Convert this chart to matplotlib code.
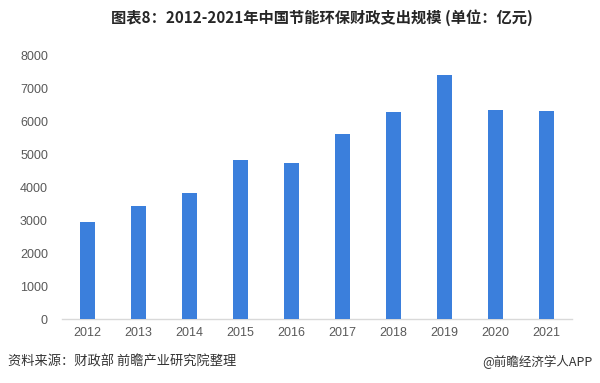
import matplotlib
matplotlib.use("Agg")
import matplotlib.pyplot as plt

years = ["2012", "2013", "2014", "2015", "2016", "2017", "2018", "2019", "2020", "2021"]
values = [2950, 3425, 3810, 4810, 4730, 5620, 6285, 7400, 6350, 6320]
yticks = [0, 1000, 2000, 3000, 4000, 5000, 6000, 7000, 8000]

title = "图表8：2012-2021年中国节能环保财政支出规模 (单位：亿元)"
source = "资料来源：财政部 前瞻产业研究院整理"
credit = "@前瞻经济学人APP"

plt.rcParams['font.family'] = ['Liberation Sans', 'Noto Sans CJK SC', 'DejaVu Sans']

fig = plt.figure(figsize=(6.0, 3.83), dpi=100)
ax = fig.add_axes([0.103, 0.167, 0.850, 0.689])

x = list(range(len(years)))
ax.bar(x, values, width=0.3, color="#3b7fdc", zorder=3)

ax.set_xlim(-0.5, 9.5)
ax.set_ylim(0, 8000)
ax.set_yticks(yticks)
ax.set_xticks(x)
ax.set_xticklabels(years)
for s in ["top", "right", "left"]:
    ax.spines[s].set_visible(False)
ax.spines["bottom"].set_color("#d9d9d9")
ax.spines["bottom"].set_linewidth(1.0)
ax.tick_params(axis="both", length=0, labelsize=9, labelcolor="#595959")
ax.tick_params(axis="y", pad=10)
ax.tick_params(axis="x", pad=6)

fig.text(0.537, 0.955, title, ha="center", va="center", fontsize=11, fontweight="bold",
         color="#262626", family=['Noto Sans CJK SC', 'DejaVu Sans'])
fig.text(0.013, 0.055, source, ha="left", va="center", fontsize=9.5, color="#333333",
         family=['Noto Sans CJK SC', 'DejaVu Sans'])
fig.text(0.988, 0.055, credit, ha="right", va="center", fontsize=9, color="#333333",
         family=['Noto Sans CJK SC', 'DejaVu Sans'])

fig.savefig("out.png", dpi=100, facecolor="white")
